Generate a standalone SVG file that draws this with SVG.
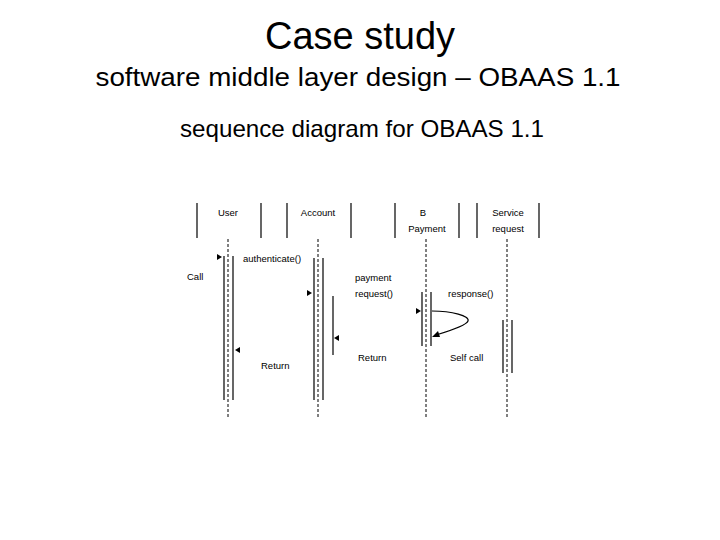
<svg xmlns="http://www.w3.org/2000/svg" width="720" height="540" viewBox="0 0 720 540">
<defs>
<style>
.t{font-family:"Liberation Sans",Arial,sans-serif;fill:#000}
.s{font-family:"Liberation Sans",Arial,sans-serif;font-size:9.5px;fill:#000}
.ln{stroke:#000;stroke-width:1.2;fill:none}
.life{stroke:#000;stroke-width:1;stroke-dasharray:3,2;fill:none}
.ah{fill:#000}
</style>
</defs>
<rect width="720" height="540" fill="#fff"/>
<text class="t" x="360" y="49" font-size="38" text-anchor="middle">Case study</text>
<text class="t" x="358" y="86" font-size="26" text-anchor="middle" textLength="525" lengthAdjust="spacingAndGlyphs">software middle layer design – OBAAS 1.1</text>
<text class="t" x="362" y="137" font-size="24" text-anchor="middle" textLength="364" lengthAdjust="spacingAndGlyphs">sequence diagram for OBAAS 1.1</text>

<g id="header-user">
<line class="ln" x1="197" y1="203" x2="197" y2="238"/>
<line class="ln" x1="261" y1="203" x2="261" y2="238"/>
<text class="s" x="228" y="216" text-anchor="middle">User</text>
</g>
<g id="header-account">
<line class="ln" x1="287" y1="203" x2="287" y2="238"/>
<line class="ln" x1="351" y1="203" x2="351" y2="238"/>
<text class="s" x="318" y="216" text-anchor="middle">Account</text>
</g>
<g id="header-bpayment">
<line class="ln" x1="395" y1="203" x2="395" y2="238"/>
<line class="ln" x1="459" y1="203" x2="459" y2="238"/>
<text class="s" x="423" y="216" text-anchor="middle">B</text>
<text class="s" x="427" y="232" text-anchor="middle">Payment</text>
</g>
<g id="header-service">
<line class="ln" x1="477" y1="203" x2="477" y2="238"/>
<line class="ln" x1="539" y1="203" x2="539" y2="238"/>
<text class="s" x="508" y="216" text-anchor="middle">Service</text>
<text class="s" x="508" y="232" text-anchor="middle">request</text>
</g>

<g id="lifelines">
<line class="life" x1="228" y1="239" x2="228" y2="418"/>
<line class="life" x1="318" y1="239" x2="318" y2="418"/>
<line class="life" x1="426" y1="239" x2="426" y2="418"/>
<line class="life" x1="507" y1="239" x2="507" y2="418"/>
</g>

<g id="activations">
<line class="ln" x1="224" y1="256" x2="224" y2="400"/>
<line class="ln" x1="233" y1="256" x2="233" y2="400"/>
<line class="ln" x1="314" y1="258" x2="314" y2="400"/>
<line class="ln" x1="323" y1="258" x2="323" y2="400"/>
<line class="ln" x1="333" y1="296" x2="333" y2="355"/>
<line class="ln" x1="422" y1="292" x2="422" y2="346"/>
<line class="ln" x1="431" y1="292" x2="431" y2="346"/>
<line class="ln" x1="503" y1="320" x2="503" y2="373"/>
<line class="ln" x1="512" y1="320" x2="512" y2="373"/>
</g>

<g id="connectors">
<polygon class="ah" points="217,254 217,260 222,257"/>
<polygon class="ah" points="307,290 307,296 312,293"/>
<polygon class="ah" points="339,335 339,341 334,338"/>
<polygon class="ah" points="240,347 240,353 235,350"/>
<polygon class="ah" points="416,308 416,314 421,311"/>
<path class="ln" d="M432,311 C452,311 470,316 468,321 C466,326 446,332 436,335" stroke-width="1"/>
<polygon class="ah" points="432,337 438,331 440,337"/>
</g>

<g id="labels">
<text class="s" x="243" y="262">authenticate()</text>
<text class="s" x="187" y="280">Call</text>
<text class="s" x="355" y="281">payment</text>
<text class="s" x="355" y="297">request()</text>
<text class="s" x="448" y="297">response()</text>
<text class="s" x="261" y="369">Return</text>
<text class="s" x="358" y="361">Return</text>
<text class="s" x="450" y="361">Self call</text>
</g>
</svg>
